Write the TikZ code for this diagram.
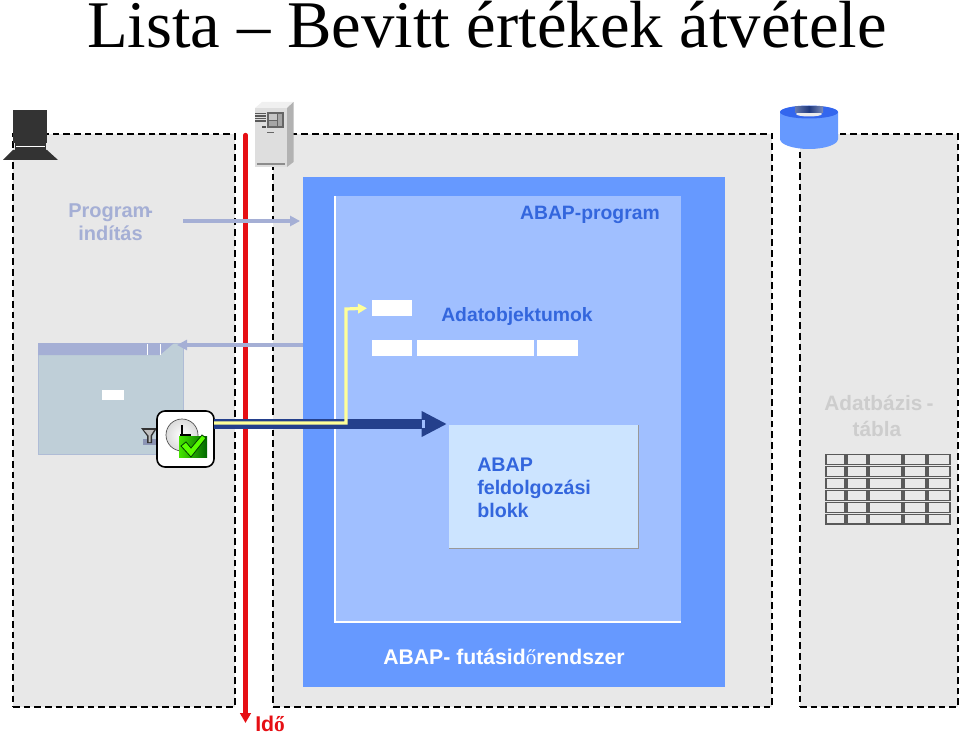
\documentclass[tikz,border=0pt]{standalone}
\usepackage{fontspec}
\setmainfont{Liberation Sans}
\newfontfamily\serifttl{Liberation Serif}
\usetikzlibrary{arrows.meta,calc}
\definecolor{panelgray}{HTML}{E8E8E8}
\definecolor{rtblue}{HTML}{6699FF}
\definecolor{progblue}{HTML}{A0BFFF}
\definecolor{blockblue}{HTML}{CCE4FF}
\definecolor{lilac}{HTML}{A5AFD5}
\definecolor{winblue}{HTML}{BFCFD8}
\definecolor{navy}{HTML}{24408C}
\definecolor{yell}{HTML}{FFFF99}
\definecolor{txtblue}{HTML}{3366DD}
\definecolor{timered}{HTML}{E60F14}
\definecolor{dbtop}{HTML}{3366EE}
\definecolor{lightgraytxt}{HTML}{CDCDCD}
\tikzset{
  x=0.75pt,y=-0.75pt,
  wh/.style 2 args={minimum width=#1*0.75pt,minimum height=#2*0.75pt,inner sep=0pt,outer sep=0pt},
  panel/.style={fill=panelgray,draw=black,line width=1.9pt,dash pattern=on 5pt off 3pt},
  whitebox/.style={fill=white,draw=none},
  cell/.style={fill=panelgray,draw=black!65,line width=.95pt},
  blbl/.style={font=\bfseries\fontsize{14.5}{18}\selectfont,inner sep=0pt},
  plbl/.style={font=\bfseries\fontsize{15}{18}\selectfont,inner sep=0pt,text=lilac},
  dblbl/.style={font=\bfseries\fontsize{15.6}{18}\selectfont,inner sep=0pt,text=lightgraytxt},
}
\begin{document}
\begin{tikzpicture}
\useasboundingbox (0,0) rectangle (960,734);
% title
\node[inner sep=0pt,anchor=base,font=\serifttl\fontsize{50}{54}\selectfont] (title) at (487,47.5) {Lista – Bevitt értékek átvétele};
% panels
\node[panel,wh={222}{573}] (left) at (124,420.5) {};
\node[panel,wh={499}{573}] (mid) at (522.5,420.5) {};
\node[panel,wh={158}{573}] (right) at (879,420.5) {};
% runtime
\node[fill=rtblue,draw=none,wh={422}{510}] (runtime) at (514,432) {};
\node[fill=progblue,wh={346}{426}] (prog) at (508,409) {};
\draw[white,line width=1.6pt] (prog.north west) -- (prog.south west) -- (prog.south east);
\node[fill=gray!80,wh={190}{124}] (shadow) at (544,487) {};
\node[fill=blockblue,wh={188.5}{122.5}] (block) at (543.25,486.25) {};
\node[blbl,text=txtblue,anchor=base east] (abapprog) at (660,220) {ABAP-program};
\node[blbl,text=txtblue,anchor=base west] (adatobj) at (441,321.5) {Adatobjektumok};
\node[whitebox,wh={40}{16}] (w1) at (392,308) {};
\node[whitebox,wh={40}{16}] (w2) at (392,348) {};
\node[whitebox,wh={117}{16}] (w3) at (475.5,348) {};
\node[whitebox,wh={41}{16}] (w4) at (557.5,348) {};
\node[inner sep=0pt,text=txtblue,anchor=base west,font=\bfseries\fontsize{14.75}{17.25}\selectfont] (bt1) at (477,471) {ABAP};
\node[inner sep=0pt,text=txtblue,anchor=base west,font=\bfseries\fontsize{14.75}{17.25}\selectfont] (bt2) at (477,494) {feldolgozási};
\node[inner sep=0pt,text=txtblue,anchor=base west,font=\bfseries\fontsize{14.75}{17.25}\selectfont] (bt3) at (477,517) {blokk};
\node[inner sep=0pt,text=white,anchor=base,font=\bfseries\fontsize{15.9}{18}\selectfont] (rtlabel) at (504,664) {ABAP- futásid{\serifttl\mdseries ő}rendszer};
% window
\node[fill=winblue,draw=lilac!60!winblue,line width=.3pt,wh={145}{111}] (win) at (110.5,398.5) {};
\fill[lilac] (38,343) -- (174,343) -- (160,355) -- (38,355) -- cycle;
\draw[white,line width=.3pt] (147.5,344) -- (147.5,355) (160,344) -- (160,355);
\node[whitebox,wh={22}{10}] (w5) at (113,395) {};
% funnel
\fill[black!15!lilac] (143,439) rectangle (160,445);
\fill[black!80] (141,428) -- (157,428) -- (152,436) -- (152,443) -- (147,443) -- (147,436) -- cycle;
\fill[black!25] (144,430) -- (154,430) -- (150.5,435.5) -- (150.5,442) -- (148.5,442) -- (148.5,435.5) -- cycle;
% arrows
\coordinate (progend) at (183,221);
\draw[lilac,line width=3pt,shorten >=2.2pt,-{Triangle[length=7.5pt,width=7.5pt]}] (progend) -- (runtime.west |- progend);
\coordinate (backend) at (177,345);
\draw[lilac,line width=2.6pt,-{Triangle[length=7.5pt,width=7.5pt]}] (runtime.west |- backend) -- (backend);
% time arrow
\coordinate (tstart) at (245.5,135);
\coordinate (tend) at (245.5,723);
\draw[timered,line width=3.2pt,-{Triangle[length=7.5pt,width=8pt]},line cap=round] (tstart) -- (tend);
\draw[lilac,line width=3pt] (235,221) -- (255,221);
\draw[lilac,line width=2.6pt] (235,345) -- (255,345);
\node[inner sep=0pt,text=timered,anchor=base west,font=\bfseries\fontsize{16}{18}\selectfont] (ido) at (255,731) {Id{\serifttl ő}};
% clock
\node[draw=black,fill=white,line width=1.2pt,rounded corners=6pt,wh={57}{56}] (clock) at (185.5,439) {};
% navy and yellow
\draw[navy,line width=6.8pt,-{Triangle[length=19pt,width=18pt]}] (clock.east |- 0,424) -- (447,424);
\fill[progblue] (422,420) rectangle (425,428);
\draw[yell,line width=2.4pt,shorten >=3.75pt,-{Triangle[length=6.75pt,width=7pt]},line join=miter] (clock.east |- 0,423) -- (346,423) -- (346,309) -- (w1.west);
% clock face
\shade[inner color=white,outer color=black!14] (182,435) circle (16);
\draw[black!70,line width=.5pt] (182,435) circle (16);
\draw[black,line width=.8pt] (182,425) -- (182,435) (180,435) -- (191,435);
\shade[left color=green!70!yellow!90!black,right color=green!40!black] (179,436) rectangle (207,457);
\draw[fill=green!65!yellow,draw=green!25!black,line width=.6pt] (181,446) -- (186,442) -- (191,448) -- (202,435) -- (206,438) -- (191,457) -- cycle;
% laptop
\fill[black!80] (13,110) rectangle (47,143);
\fill[black!80] (15,143) -- (46,143) -- (46,150) -- (15,150) -- cycle;
\draw[white,line width=.3pt] (16,146) -- (45,146);
\fill[black!80] (13,150) -- (47,150) -- (58,160) -- (3,160) -- cycle;
% server
\fill[black!6] (255,108) -- (262,102) -- (293,102) -- (287,108) -- cycle;
\fill[black!30] (287,108) -- (293.5,102) -- (293.5,162) -- (287,167) -- cycle;
\fill[black!13] (255,108) rectangle (287,167);
\fill[black!45] (257,163) rectangle (285,165);
\foreach \yy in {113,115.5,118,120.5}
  \fill[black!65] (255,\yy) rectangle (266,\yy+1.3);
\fill[black!60] (267,112) rectangle (284,128);
\fill[black!22] (269,114) rectangle (277,120);
\fill[black!35] (278,114) rectangle (282,126);
\fill[black!35] (269,121) rectangle (277,126);
\fill[black!70] (262,126) rectangle (266,128);
\fill[black!60] (267,132) rectangle (274,133);
% database
\fill[rtblue] (780,112) -- (780,139) arc[start angle=180,end angle=0,x radius=29,y radius=10] -- (838,112) -- cycle;
\fill[dbtop] (809,112) ellipse[x radius=29,y radius=6.5];
\fill[black!8] (809,114) ellipse[x radius=13,y radius=2.5];
\shade[left color=navy!70,right color=navy!60!white,middle color=navy!90!black] (795,107) rectangle (823,113);
% db label
\node[dblbl,anchor=base west] (dbl1) at (824,410) {Adatbázis};
\node[dblbl,anchor=base] (dbl1b) at (930,410) {-};
\node[dblbl,anchor=base] (dbl2) at (877,436) {tábla};
% program label
\node[plbl,anchor=base west] (pl1) at (68,218) {Program};
\node[plbl,anchor=base west] (pl1b) at (146,218) {-};
\node[plbl,anchor=base] (pl2) at (110.5,240.5) {indítás};
% table
\foreach \ya/\yb in {454.5/464.5,466.5/476.5,478.5/488.5,490.5/500.5,502.5/512.5,514.5/524}
  \foreach \xa/\xb in {826/845,847/867,869/902,904/926,928/950}
    \draw[cell] (\xa,\ya) rectangle (\xb,\yb);
\end{tikzpicture}
\end{document}
